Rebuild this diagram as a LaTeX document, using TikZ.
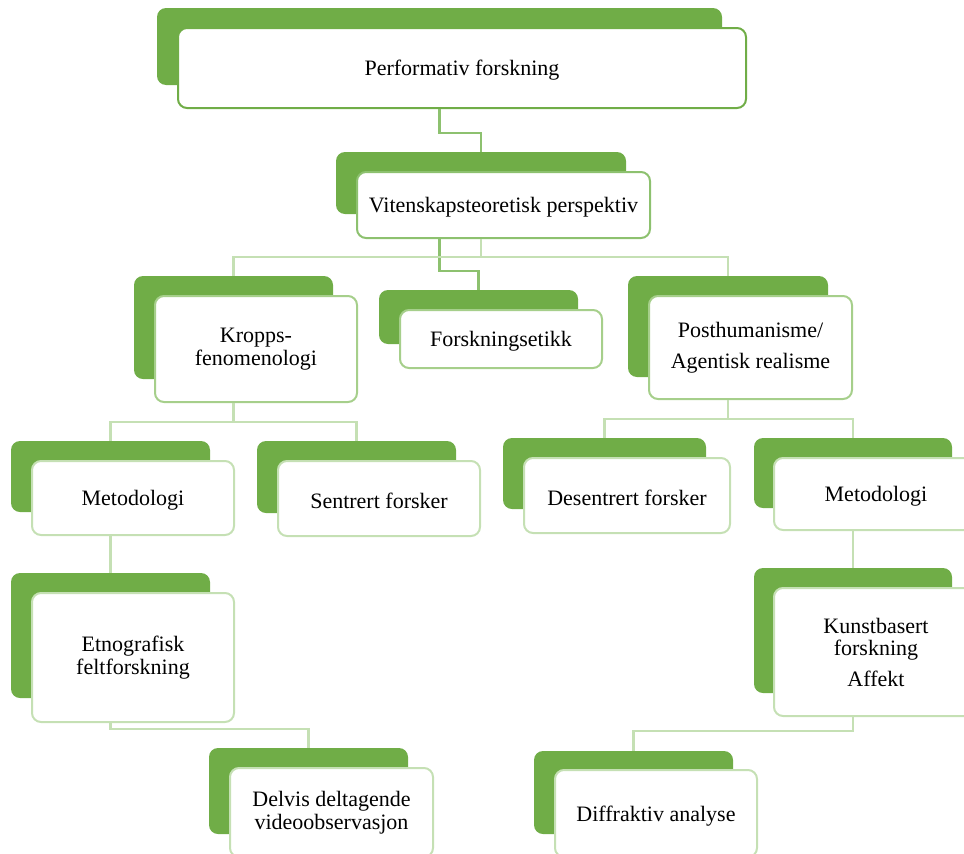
\documentclass[tikz,border=0pt]{standalone}
\usepackage{fontspec}
\setmainfont{Liberation Serif}
\definecolor{leafgreen}{HTML}{70AD47}
\definecolor{midgreen}{HTML}{8DC16F}
\definecolor{softgreen}{HTML}{A6CF8B}
\definecolor{palegreen}{HTML}{C5E0B4}
\tikzset{
  sz/.style 2 args={minimum width=#1, minimum height=#2},
  backtab/.style={fill=leafgreen, rounded corners=9, inner sep=0},
  card/.style={fill=white, draw=palegreen, line width=2, rounded corners=9,
    inner sep=0, align=center, text=black,
    font=\fontsize{22}{22.5}\selectfont,
    execute at begin node={\rule{0pt}{20.5pt}}},
  link/.style={draw=palegreen, line width=2.2},
  darklink/.style={draw=midgreen, line width=2.2},
}
\begin{document}
\begin{tikzpicture}[x=1pt, y=-1pt]
\useasboundingbox (0,0) rectangle (964,854);
\clip (0,0) rectangle (964,854);

% level 0
\node[backtab, sz={565}{77}] (pg) at (439.5,46.5) {};
\node[card, draw=leafgreen, sz={568}{80}] (pw) at (462,68) {Performativ forskning};

% level 1
\node[backtab, sz={290}{62}] (vg) at (481,183) {};
\node[card, draw=midgreen, sz={293}{66}] (vw) at (503.5,205) {Vitenskapsteoretisk perspektiv};

% level 2
\node[backtab, sz={199}{103}] (kg) at (233.5,327.5) {};
\node[card, draw=softgreen, sz={202}{106}] (kw) at (256,349) {Kropps-\\fenomenologi};

\node[backtab, sz={199}{54}] (fg) at (478.5,317) {};
\node[card, draw=softgreen, sz={202}{58}] (fw) at (501,339) {Forskningsetikk};

\node[backtab, sz={200}{101}] (hg) at (728,326.5) {};
\node[card, draw=softgreen, sz={203}{103}] (hw) at (750.5,347.5) {Posthumanisme/\\[8.5pt]Agentisk realisme};

% level 3
\node[backtab, sz={199}{71}] (mlg) at (110.5,476.5) {};
\node[card, sz={202}{74}] (mlw) at (133,498) {Metodologi};

\node[backtab, sz={199}{72}] (sg) at (356.5,477) {};
\node[card, sz={202}{75}] (sw) at (379,498.5) {Sentrert forsker};

\node[backtab, sz={203}{71}] (dg) at (604.5,473.5) {};
\node[card, sz={206}{75}] (dw) at (627,495.5) {Desentrert forsker};

\node[backtab, sz={198}{70}] (mrg) at (853,473) {};
\node[card, sz={204}{72}] (mrw) at (876,494) {Metodologi};

% level 4
\node[backtab, sz={199}{125}] (eg) at (110.5,635.5) {};
\node[card, sz={202}{129}] (ew) at (133,657.5) {Etnografisk\\feltforskning};

\node[backtab, sz={198}{125}] (ag) at (853,630.5) {};
\node[card, sz={204}{128}] (aw) at (876,652) {Kunstbasert\\forskning\\[8pt]Affekt};

% level 5
\node[backtab, sz={199}{86}] (lg) at (308.5,791) {};
\node[card, sz={203}{89}] (lw) at (331.5,812.5) {Delvis deltagende\\videoobservasjon};

\node[backtab, sz={199}{83}] (rg) at (633.5,792.5) {};
\node[card, sz={202}{87}] (rw) at (656,813.5) {Diffraktiv analyse};

% connectors
\draw[darklink] (pg.center |- pw.south) -- ++(0,24) -| (vg.north);
\draw[darklink] (pg.center |- vw.south) -- ++(0,32) -| (fg.north);
\draw[link] (vg.center |- vw.south) -- ++(0,18) -| (kg.north);
\draw[link] (vg.center |- vw.south) -- ++(0,18) -| (hg.north);

\draw[link] (kg.center |- kw.south) -- ++(0,19) -| (mlg.north);
\draw[link] (kg.center |- kw.south) -- ++(0,19) -| (sg.north);
\draw[link] (hg.center |- hw.south) -- ++(0,19) -| (dg.north);
\draw[link] (hg.center |- hw.south) -- ++(0,19) -| (mrg.north);

\draw[link] (mlg.center |- mlw.south) -- (eg.north);
\draw[link] (mrg.center |- mrw.south) -- (ag.north);

\draw[link] (eg.center |- ew.south) -- ++(0,6) -| (lg.north);
\draw[link] (ag.center |- aw.south) -- ++(0,14) -| (rg.north);
\end{tikzpicture}
\end{document}
